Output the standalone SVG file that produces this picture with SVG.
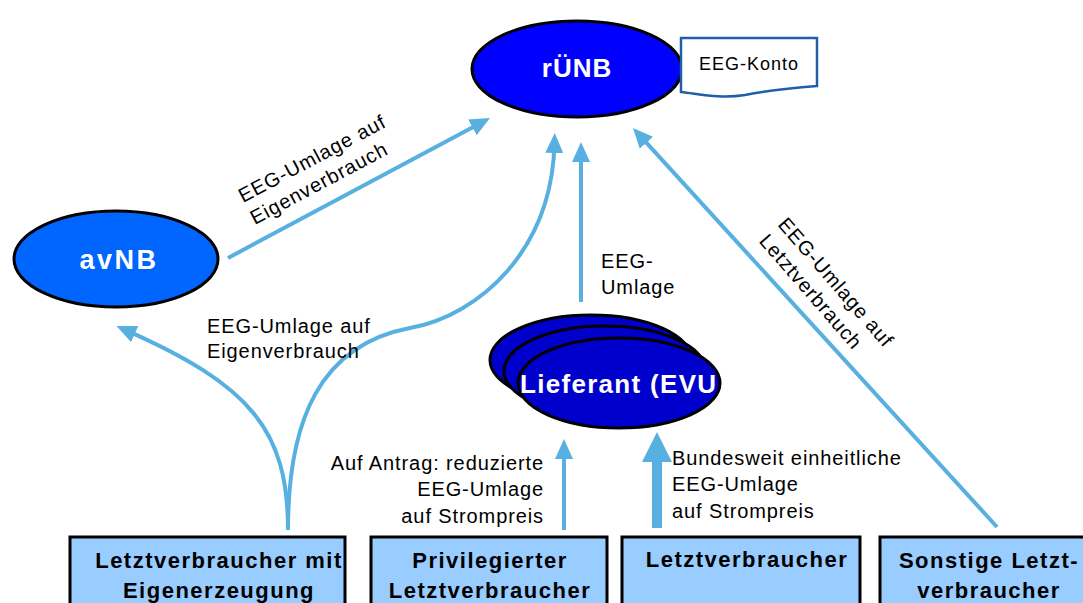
<svg xmlns="http://www.w3.org/2000/svg" width="1083" height="603" viewBox="0 0 1083 603">
<style>
.lbl{font-family:"Liberation Sans",Arial,sans-serif;font-size:20px;letter-spacing:0.9px;fill:#000}
.ttl{font-family:"Liberation Sans",Arial,sans-serif;font-weight:bold;fill:#fff}
.box{fill:#99CCFF;stroke:#000;stroke-width:3}
.boxt{font-family:"Liberation Sans",Arial,sans-serif;font-weight:bold;font-size:22px;letter-spacing:1.5px;fill:#000;text-anchor:middle}
.ell{stroke:#000;stroke-width:3}
.con{fill:none;stroke:#58B0E0;stroke-width:4}
</style>
<defs>
<marker id="ah" markerUnits="userSpaceOnUse" viewBox="0 0 20 20" markerWidth="20" markerHeight="20" refX="10" refY="10" orient="auto">
<path d="M0,1 L20,10 L0,19 z" fill="#58B0E0"/>
</marker>
</defs>
<g id="connectors">
<path class="con" d="M228,258 L481.2,122.7" marker-end="url(#ah)"/>
<path class="con" d="M288,530 C288,420 320,345 410,328 C480,315 552,250 554.5,143" marker-end="url(#ah)"/>
<path class="con" d="M288,530 C288,430 250,385 125.6,330.1" marker-end="url(#ah)"/>
<path class="con" d="M581,302 L581,152" marker-end="url(#ah)"/>
<path class="con" d="M997,527 L639.7,135.4" marker-end="url(#ah)"/>
<path class="con" d="M564,530 L564,449" marker-end="url(#ah)"/>
<path d="M652,528 L652,462 L642,462 L657,432 L672,462 L662,462 L662,528 z" fill="#58B0E0"/>
</g>
<g id="labels">
<g transform="translate(243,203) rotate(-28)">
<text class="lbl" x="0" y="0">EEG-Umlage auf</text>
<text class="lbl" x="0" y="25">Eigenverbrauch</text>
</g>
<text class="lbl" x="207" y="333">EEG-Umlage auf</text>
<text class="lbl" x="207" y="358">Eigenverbrauch</text>
<text class="lbl" x="601" y="268">EEG-</text>
<text class="lbl" x="601" y="294">Umlage</text>
<g transform="translate(777,225) rotate(49)">
<text class="lbl" x="0" y="0">EEG-Umlage auf</text>
<text class="lbl" x="0" y="25">Letztverbrauch</text>
</g>
<text class="lbl" x="544" y="470" text-anchor="end">Auf Antrag: reduzierte</text>
<text class="lbl" x="544" y="496" text-anchor="end">EEG-Umlage</text>
<text class="lbl" x="544" y="523" text-anchor="end">auf Strompreis</text>
<text class="lbl" x="672" y="465">Bundesweit einheitliche</text>
<text class="lbl" x="672" y="491">EEG-Umlage</text>
<text class="lbl" x="672" y="518">auf Strompreis</text>
</g>
<g id="ruenb">
<ellipse class="ell" cx="577" cy="69" rx="105" ry="48" fill="#0000FF"/>
<text class="ttl" x="577" y="77" font-size="26" letter-spacing="1" text-anchor="middle">rÜNB</text>
</g>
<g id="eegkonto">
<path d="M681,38 L817,38 L817,86 C790,88 770,90 745,95 C720,99 700,94 681,92 z" fill="#fff" stroke="#1F5FA8" stroke-width="2.5"/>
<text x="749" y="70" font-family="Liberation Sans,Arial,sans-serif" font-size="18" letter-spacing="1" text-anchor="middle" fill="#000">EEG-Konto</text>
</g>
<g id="avnb">
<ellipse class="ell" cx="116" cy="259" rx="102" ry="48" fill="#0066FF"/>
<text class="ttl" x="119" y="269" font-size="27" letter-spacing="2.5" text-anchor="middle">avNB</text>
</g>
<g id="lieferant">
<ellipse class="ell" cx="591" cy="360" rx="101" ry="45" fill="#0000CC"/>
<ellipse class="ell" cx="605" cy="371" rx="101" ry="45" fill="#0000CC"/>
<ellipse class="ell" cx="619" cy="383" rx="101" ry="45" fill="#0000CC"/>
<text class="ttl" x="520" y="393" font-size="26" letter-spacing="1.3">Lieferant (EVU</text>
</g>
<g id="lv-eigen">
<rect class="box" x="70" y="537" width="275" height="80"/>
<text class="boxt" x="219" y="568">Letztverbraucher mit</text>
<text class="boxt" x="219" y="598">Eigenerzeugung</text>
</g>
<g id="lv-priv">
<rect class="box" x="371" y="537" width="236" height="80"/>
<text class="boxt" x="490" y="568">Privilegierter</text>
<text class="boxt" x="490" y="598">Letztverbraucher</text>
</g>
<g id="lv">
<rect class="box" x="622" y="537" width="238" height="80"/>
<text class="boxt" x="747" y="567">Letztverbraucher</text>
</g>
<g id="lv-sonst">
<rect class="box" x="880" y="537" width="220" height="80"/>
<text class="boxt" x="989" y="568">Sonstige Letzt-</text>
<text class="boxt" x="989" y="598">verbraucher</text>
</g>
</svg>
